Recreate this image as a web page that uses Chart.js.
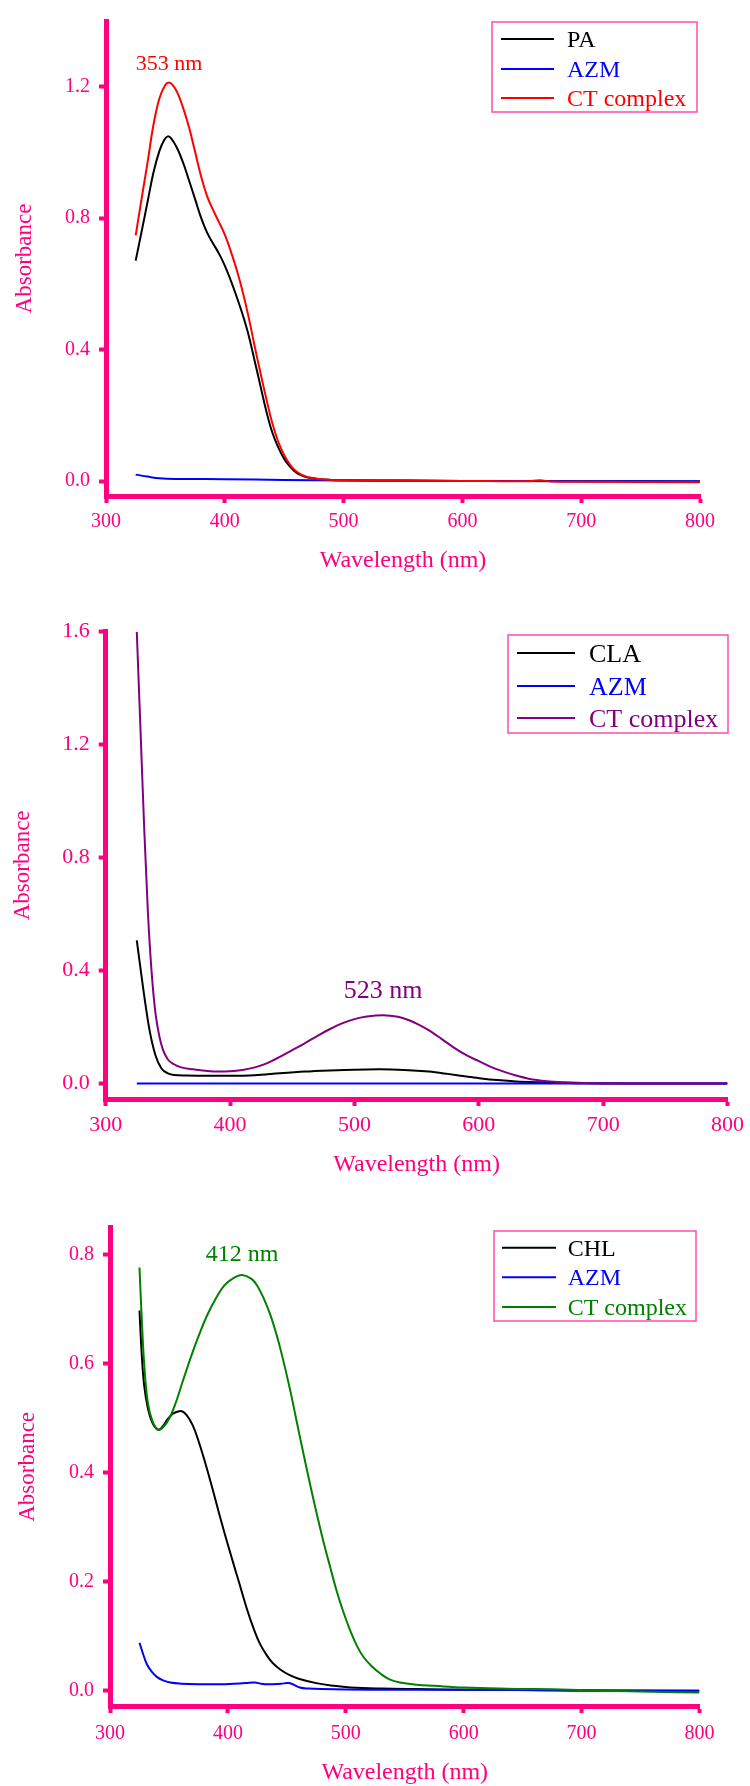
<!DOCTYPE html>
<html>
<head>
<meta charset="utf-8">
<script src="https://cdn.jsdelivr.net/npm/chart.js@4.4.1/dist/chart.umd.min.js"></script>
<style>
  html, body { margin: 0; padding: 0; background: #ffffff; }
  body { width: 750px; height: 1786px; position: relative; overflow: hidden; }
  canvas { position: absolute; left: 0; }
</style>
</head>
<body>
<canvas id="paChart" width="750" height="595" style="top:0px"></canvas>
<canvas id="claChart" width="750" height="595" style="top:600px"></canvas>
<canvas id="chlChart" width="750" height="586" style="top:1200px"></canvas>
<script>
// ---- tick values ----
const wavelengthTicks = [300, 400, 500, 600, 700, 800];
const paAbsTicks = [0.0, 0.4, 0.8, 1.2];
const claAbsTicks = [0.0, 0.4, 0.8, 1.2, 1.6];
const chlAbsTicks = [0.0, 0.2, 0.4, 0.6, 0.8];

// ---- panel 1: PA, AZM, PA–AZM CT complex ----
const paWl  = [325, 330, 335, 340, 345, 349, 352, 355, 360, 365, 370, 375, 380, 385, 390, 395, 400, 405, 410, 415, 420, 425, 430, 435, 440, 445, 450, 455, 460, 465, 470, 480, 490, 500, 550, 600, 700, 800];
const paAbs = [0.671, 0.76, 0.85, 0.94, 1.005, 1.038, 1.049, 1.042, 1.012, 0.968, 0.914, 0.858, 0.802, 0.757, 0.724, 0.693, 0.656, 0.611, 0.561, 0.507, 0.445, 0.368, 0.29, 0.212, 0.148, 0.103, 0.068, 0.044, 0.027, 0.017, 0.011, 0.006, 0.004, 0.003, 0.002, 0.001, 0.0, -0.001];

const azm1Wl  = [325, 335, 345, 360, 400, 450, 500, 600, 700, 800];
const azm1Abs = [0.020, 0.014, 0.009, 0.007, 0.006, 0.004, 0.002, 0.001, 0.0, 0.0];

const ct1PeakNm = 353;
const ct1Wl  = [325, 330, 335, 340, 345, 350, 353, 356, 360, 365, 370, 375, 380, 385, 390, 395, 400, 405, 410, 415, 420, 425, 430, 435, 440, 445, 450, 455, 460, 465, 470, 480, 490, 500, 600, 655, 665, 675, 700, 800];
const ct1Abs = [0.748, 0.86, 0.97, 1.085, 1.165, 1.206, 1.213, 1.206, 1.183, 1.135, 1.075, 1.002, 0.928, 0.868, 0.826, 0.789, 0.75, 0.70, 0.643, 0.577, 0.50, 0.413, 0.33, 0.25, 0.176, 0.12, 0.079, 0.05, 0.03, 0.019, 0.012, 0.006, 0.004, 0.003, 0.001, 0.0, 0.003, -0.001, -0.002, -0.003];

// ---- panel 2: CLA, AZM, CLA–AZM CT complex ----
const claWl  = [325, 330, 335, 340, 345, 350, 355, 365, 380, 400, 420, 440, 460, 480, 500, 520, 540, 560, 575, 590, 602, 615, 630, 650, 680, 720, 800];
const claAbs = [0.507, 0.341, 0.195, 0.10, 0.052, 0.036, 0.030, 0.028, 0.027, 0.027, 0.029, 0.036, 0.042, 0.046, 0.049, 0.050, 0.048, 0.042, 0.034, 0.025, 0.018, 0.012, 0.007, 0.004, 0.001, 0.0, 0.0];

const azm2Wl  = [325, 400, 500, 600, 700, 800];
const azm2Abs = [0.0, 0.0, 0.0, 0.0, 0.0, 0.0];

const ct2PeakNm = 523;
const ct2Wl  = [325, 328, 331, 334, 337, 340, 343, 346, 350, 355, 360, 370, 380, 390, 400, 410, 420, 430, 440, 450, 460, 470, 480, 490, 500, 510, 523, 535, 545, 550, 560, 570, 580, 590, 600, 610, 620, 630, 640, 655, 670, 690, 710, 800];
const ct2Abs = [1.6, 1.25, 0.90, 0.60, 0.39, 0.25, 0.17, 0.12, 0.085, 0.068, 0.058, 0.05, 0.045, 0.042, 0.043, 0.048, 0.057, 0.072, 0.094, 0.118, 0.142, 0.168, 0.192, 0.213, 0.228, 0.237, 0.242, 0.236, 0.222, 0.212, 0.188, 0.158, 0.127, 0.100, 0.079, 0.058, 0.042, 0.028, 0.017, 0.008, 0.004, 0.001, 0.0, 0.0];

// ---- panel 3: CHL, AZM, CHL–AZM CT complex ----
const chlWl  = [325, 327, 329, 332, 336, 341, 345, 349, 353, 357, 361, 365, 370, 375, 380, 385, 390, 395, 400, 405, 410, 416, 422, 427, 433, 438, 445, 452, 460, 475, 490, 504, 530, 560, 600, 700, 800];
const chlAbs = [0.698, 0.615, 0.56, 0.52, 0.492, 0.479, 0.486, 0.499, 0.508, 0.512, 0.513, 0.506, 0.488, 0.459, 0.424, 0.386, 0.346, 0.306, 0.268, 0.231, 0.195, 0.151, 0.113, 0.087, 0.065, 0.051, 0.038, 0.029, 0.022, 0.014, 0.009, 0.006, 0.004, 0.003, 0.002, 0.001, 0.0];

const azm3Wl  = [325, 328, 331, 335, 340, 345, 351, 360, 376, 395, 405, 415, 423, 428, 435, 445, 451, 455, 461, 468, 480, 520, 600, 660, 700, 800];
const azm3Abs = [0.088, 0.068, 0.050, 0.036, 0.025, 0.019, 0.015, 0.013, 0.012, 0.012, 0.013, 0.014, 0.015, 0.013, 0.012, 0.013, 0.014, 0.012, 0.006, 0.004, 0.003, 0.002, 0.002, 0.001, 0.0, 0.0];

const ct3PeakNm = 412;
const ct3Wl  = [325, 327, 329, 332, 336, 341, 346, 351, 356, 362, 370, 376, 383, 390, 397, 405, 412, 420, 425, 430, 436, 442, 447, 453, 458, 464, 470, 476, 481, 487, 492, 498, 504, 510, 515, 522, 529, 537, 546, 560, 575, 600, 630, 660, 690, 720, 760, 800];
const ct3Abs = [0.777, 0.68, 0.60, 0.53, 0.495, 0.479, 0.486, 0.503, 0.530, 0.570, 0.621, 0.656, 0.692, 0.721, 0.744, 0.758, 0.763, 0.756, 0.743, 0.722, 0.690, 0.648, 0.606, 0.550, 0.498, 0.436, 0.376, 0.319, 0.274, 0.225, 0.185, 0.144, 0.109, 0.080, 0.062, 0.045, 0.032, 0.021, 0.015, 0.011, 0.009, 0.006, 0.004, 0.003, 0.002, 0.0, -0.002, -0.003];

// ---- styling ----
const PINK = '#ff0080';
const SERIF = '"Liberation Serif", "Times New Roman", Times, serif';

function points(wl, abs) {
  return wl.map((w, i) => ({ x: w, y: abs[i] }));
}
function absAt(wl, abs, nm) {
  return abs[wl.indexOf(nm)];
}

// Draws the boxed legend and the peak wavelength label
const spectrumDecor = {
  id: 'spectrumDecor',
  afterDatasetsDraw(chart, args, opts) {
    const ctx = chart.ctx;
    const lg = opts.legend;
    ctx.save();
    ctx.strokeStyle = lg.borderColor;
    ctx.lineWidth = lg.borderWidth;
    ctx.strokeRect(lg.x, lg.y, lg.w, lg.h);
    ctx.font = lg.size + 'px ' + SERIF;
    ctx.textAlign = 'left';
    ctx.textBaseline = 'alphabetic';
    chart.data.datasets.forEach((ds, i) => {
      const y = lg.rows[i];
      ctx.strokeStyle = ds.borderColor;
      ctx.lineWidth = 2;
      ctx.beginPath();
      ctx.moveTo(lg.lineX1, y);
      ctx.lineTo(lg.lineX2, y);
      ctx.stroke();
      ctx.fillStyle = ds.borderColor;
      ctx.fillText(ds.label, lg.textX, y + lg.size * 0.33);
    });
    const pk = opts.peak;
    const px = chart.scales.x.getPixelForValue(pk.nm);
    const py = chart.scales.y.getPixelForValue(pk.abs);
    ctx.font = pk.size + 'px ' + SERIF;
    ctx.fillStyle = pk.color;
    ctx.textAlign = 'center';
    ctx.fillText(pk.nm + ' nm', px, py - pk.gap);
    ctx.restore();
  }
};

function spectrum(id, p) {
  const datasets = p.series.map((s, i) => ({
    label: s.label,
    data: points(s.wl, s.abs),
    borderColor: s.color,
    backgroundColor: s.color,
    borderWidth: 2,
    pointRadius: 0,
    fill: false,
    cubicInterpolationMode: p.smooth,
    tension: 0.4,
    order: p.series.length - i
  }));
  return new Chart(document.getElementById(id), {
    type: 'line',
    data: { datasets },
    plugins: [spectrumDecor],
    options: {
      responsive: false,
      animation: false,
      events: [],
      layout: { padding: { top: p.padTop, right: p.padRight, left: 0, bottom: 0 } },
      plugins: {
        legend: { display: false },
        tooltip: { enabled: false },
        spectrumDecor: { legend: p.legend, peak: p.peak }
      },
      scales: {
        x: {
          type: 'linear',
          min: 300,
          max: 800,
          afterBuildTicks: s => { s.ticks = wavelengthTicks.map(v => ({ value: v })); },
          afterFit: s => { s.height = p.xAxisHeight; },
          border: { display: true, color: PINK, width: 5 },
          grid: { display: true, drawOnChartArea: false, drawTicks: true, tickLength: 7, tickWidth: 4, tickColor: PINK, color: PINK },
          ticks: { color: PINK, font: { family: SERIF, size: p.tickSize }, padding: p.xTickPad, maxRotation: 0, autoSkip: false, callback: v => String(v) },
          title: { display: true, text: 'Wavelength (nm)', color: PINK, font: { family: SERIF, size: 24, lineHeight: 1 }, padding: { top: 0, bottom: p.xTitlePad } }
        },
        y: {
          type: 'linear',
          min: p.yMin,
          max: p.yMax,
          afterBuildTicks: s => { s.ticks = p.yTicks.map(v => ({ value: v })); },
          afterFit: s => { s.width = p.yAxisWidth; },
          border: { display: true, color: PINK, width: 5 },
          grid: { display: true, drawOnChartArea: false, drawTicks: true, tickLength: 7, tickWidth: 4, tickColor: PINK, color: PINK },
          ticks: { color: PINK, font: { family: SERIF, size: p.tickSize }, padding: 9, autoSkip: false, callback: v => v.toFixed(1) },
          title: { display: true, text: 'Absorbance', color: PINK, font: { family: SERIF, size: 23, lineHeight: 1 }, padding: { top: p.yTitlePad, bottom: 0 } }
        }
      }
    }
  });
}

spectrum('paChart', {
  series: [
    { label: 'PA', wl: paWl, abs: paAbs, color: '#000000' },
    { label: 'AZM', wl: azm1Wl, abs: azm1Abs, color: '#0000ff' },
    { label: 'CT complex', wl: ct1Wl, abs: ct1Abs, color: '#ff0000' }
  ],
  smooth: 'default',
  yMin: -0.045, yMax: 1.4, yTicks: paAbsTicks,
  padTop: 16, padRight: 50, yAxisWidth: 106, xAxisHeight: 99,
  tickSize: 20, xTickPad: 7, xTitlePad: 22, yTitlePad: 13,
  legend: { x: 492, y: 22, w: 205, h: 90, rows: [39, 69, 98], lineX1: 501, lineX2: 554, textX: 567, size: 24, borderColor: '#ff4da6', borderWidth: 1.5 },
  peak: { nm: ct1PeakNm, abs: absAt(ct1Wl, ct1Abs, ct1PeakNm), color: '#ff0000', size: 22, gap: 12 }
});

spectrum('claChart', {
  series: [
    { label: 'CLA', wl: claWl, abs: claAbs, color: '#000000' },
    { label: 'AZM', wl: azm2Wl, abs: azm2Abs, color: '#0000ff' },
    { label: 'CT complex', wl: ct2Wl, abs: ct2Abs, color: '#800080' }
  ],
  smooth: 'monotone',
  yMin: -0.055, yMax: 1.6, yTicks: claAbsTicks,
  padTop: 31.7, padRight: 19.3, yAxisWidth: 105.7, xAxisHeight: 96,
  tickSize: 22, xTickPad: 6, xTitlePad: 18.5, yTitlePad: 11.5,
  legend: { x: 508, y: 35, w: 220, h: 98, rows: [53, 86, 118], lineX1: 517, lineX2: 575, textX: 589, size: 26, borderColor: '#ff4da6', borderWidth: 1.5 },
  peak: { nm: ct2PeakNm, abs: absAt(ct2Wl, ct2Abs, ct2PeakNm), color: '#800080', size: 26, gap: 17 }
});

spectrum('chlChart', {
  series: [
    { label: 'CHL', wl: chlWl, abs: chlAbs, color: '#000000' },
    { label: 'AZM', wl: azm3Wl, abs: azm3Abs, color: '#0000ff' },
    { label: 'CT complex', wl: ct3Wl, abs: ct3Abs, color: '#008000' }
  ],
  smooth: 'default',
  yMin: -0.028, yMax: 0.85, yTicks: chlAbsTicks,
  padTop: 27.7, padRight: 50.5, yAxisWidth: 110, xAxisHeight: 80,
  tickSize: 20, xTickPad: 9, xTitlePad: 1.2, yTitlePad: 16.5,
  legend: { x: 494, y: 31, w: 202, h: 90, rows: [47.7, 77.3, 107], lineX1: 502, lineX2: 556, textX: 567.7, size: 24, borderColor: '#ff4da6', borderWidth: 1.5 },
  peak: { nm: ct3PeakNm, abs: absAt(ct3Wl, ct3Abs, ct3PeakNm), color: '#008000', size: 24, gap: 14.5 }
});
</script>
</body>
</html>
